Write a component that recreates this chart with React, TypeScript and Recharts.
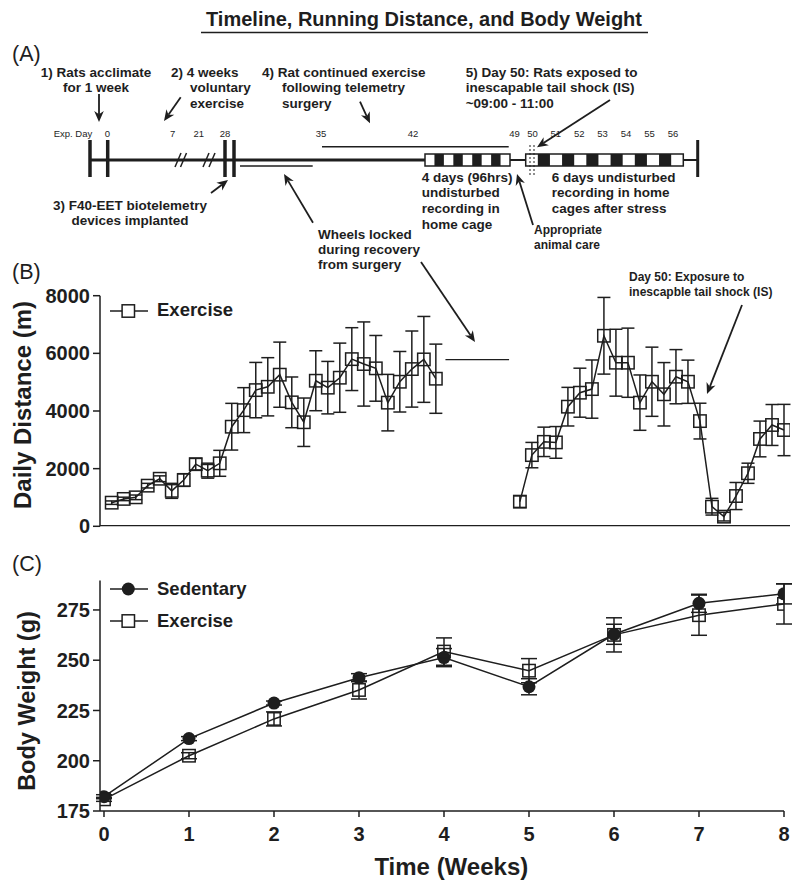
import React from "react";
import {
  ComposedChart,
  Line,
  XAxis,
  YAxis,
  ErrorBar,
  ReferenceLine,
  ReferenceArea,
  ReferenceDot,
  Legend,
} from "recharts";

const FONT = '"Liberation Sans", Arial, Helvetica, sans-serif';
const INK = "#1e1e1e";

// ---- (B) daily running distance (m), mean ± SEM ----
const preDays = [0, 1, 2, 3, 4, 5, 6, 7, 8, 9, 10, 11, 12, 13, 14, 15, 16, 17, 18, 19, 20, 21, 22, 23, 24, 25, 26, 27];
const preDistance = [820, 950, 1005, 1410, 1650, 1230, 1605, 2155, 1930, 2185, 3455, 4030, 4725, 4840, 5260, 4300, 3610, 5050, 4810, 5155, 5800, 5630, 5480, 4290, 5015, 5455, 5790, 5120];
const preSem = [60, 60, 80, 80, 100, 260, 220, 200, 260, 450, 810, 780, 960, 1010, 1130, 880, 840, 1040, 910, 1200, 1090, 1460, 1140, 980, 1050, 1320, 1490, 1200];
const postDays = [34, 35, 36, 37, 38, 39, 40, 41, 42, 43, 44, 45, 46, 47, 48, 49, 50, 51, 52, 53, 54, 55, 56];
const postDistance = [855, 2470, 2930, 2910, 4150, 4635, 4760, 6610, 5675, 5675, 4290, 5015, 4580, 5190, 5015, 3650, 680, 335, 1050, 1840, 3030, 3515, 3340];
const postSem = [200, 440, 510, 550, 670, 850, 1010, 1330, 1160, 1200, 960, 1200, 1100, 940, 750, 620, 290, 150, 470, 350, 620, 710, 890];
const distanceTicks = [0, 2000, 4000, 6000, 8000];
const dayDomain = [-0.975, 56.5];
// end of the "wheels locked" pointer, drawn in the running gap
const lockedSpan = [27.8, 33.1];
const lockedLevel = 5780;

// ---- (C) body weight (g), mean ± SEM ----
const weeks = [0, 1, 2, 3, 4, 5, 6, 7, 8];
const sedentaryWeight = [182.1, 211, 228.7, 241.3, 251.3, 236.8, 262.9, 278.3, 283];
const sedentarySem = [1, 1, 1, 2, 4.5, 4, 5, 4.5, 5];
const exerciseWeight = [180.8, 202.5, 220.8, 235.2, 254.3, 244.8, 262.6, 272.4, 278];
const exerciseSem = [1, 1.5, 3.5, 4.5, 6.8, 6, 8.5, 10, 10];
const weightTicks = [175, 200, 225, 250, 275];

// ---- (A) timeline schematic ----
const dayLabels = ["0", "7", "21", "28", "35", "42", "49", "50", "51", "52", "53", "54", "55", "56"];
const dayLabelX = [107.3, 172.7, 198.7, 225, 321, 413, 514.5, 532.5, 555.8, 579.2, 602.5, 626, 649.5, 673];
const recordingBlocks = [
  { from: 425, to: 510, nights: 4 },
  { from: 525.7, to: 683.3, nights: 6 },
];

const preRows = preDays.map((day, i) => ({ day, dist: preDistance[i], sem: preSem[i] }));
const postRows = postDays.map((day, i) => ({ day, dist: postDistance[i], sem: postSem[i] }));
const weightRows = weeks.map((week, i) => ({
  week,
  sed: sedentaryWeight[i],
  sedSem: sedentarySem[i],
  ex: exerciseWeight[i],
  exSem: exerciseSem[i],
}));

const axisStroke = { stroke: INK, strokeWidth: 1.5 };
const tickStyle = { fontSize: 20, fontWeight: 700, fill: INK, fontFamily: FONT };

const Square = (p: any) =>
  p.cx == null || p.cy == null ? null : (
    <rect key={`sq-${p.index}`} x={p.cx - 6.2} y={p.cy - 6.2} width={12.4} height={12.4} fill="none" stroke={INK} strokeWidth={1.5} />
  );

const Dot = (p: any) =>
  p.cx == null || p.cy == null ? null : <circle key={`ci-${p.index}`} cx={p.cx} cy={p.cy} r={6.5} fill={INK} />;

const yTitle = (text: string, x: number, y: number, size: number) => () => (
  <text
    x={x}
    y={y}
    transform={`rotate(-90, ${x}, ${y})`}
    textAnchor="middle"
    fontFamily={FONT}
    fontWeight={700}
    fontSize={size}
    fill={INK}
  >
    {text}
  </text>
);

type Row = { name: string; marker: "square" | "circle" };
const LegendRows = ({ rows }: { rows: Row[] }) => (
  <div style={{ fontFamily: FONT, fontWeight: 700, fontSize: 18.5, color: INK }}>
    {rows.map((r) => (
      <div key={r.name} style={{ display: "flex", alignItems: "center", height: 31.7, lineHeight: 1 }}>
        <svg width={38} height={16} style={{ display: "block" }}>
          <line x1={0} y1={8} x2={38} y2={8} stroke={INK} strokeWidth={1.5} />
          {r.marker === "square" ? (
            <rect x={12.1} y={1.8} width={12.4} height={12.4} fill="#fff" stroke={INK} strokeWidth={1.5} />
          ) : (
            <circle cx={18.3} cy={8} r={6.5} fill={INK} />
          )}
        </svg>
        <span style={{ marginLeft: 9 }}>{r.name}</span>
      </div>
    ))}
  </div>
);

function DistancePanel() {
  return (
    <ComposedChart width={800} height={270} margin={{ top: 25.7, right: 10, bottom: 12.7, left: 0 }}>
      <XAxis type="number" dataKey="day" domain={dayDomain} allowDataOverflow height={1} tick={false} tickLine={false} axisLine={false} />
      <YAxis
        type="number"
        domain={[0, 8000]}
        ticks={distanceTicks}
        interval={0}
        width={100}
        tickSize={7}
        tickMargin={3}
        tick={tickStyle}
        tickLine={axisStroke}
        axisLine={axisStroke}
        label={yTitle("Daily Distance (m)", 30.5, 135, 24)}
      />
      {/* bottom edge of the distance panel */}
      <ReferenceArea x1={dayDomain[0]} x2={dayDomain[1]} y1={0} y2={45} fill={INK} fillOpacity={1} stroke="none" ifOverflow="visible" />
      <ReferenceLine
        segment={[
          { x: lockedSpan[0], y: lockedLevel },
          { x: lockedSpan[1], y: lockedLevel },
        ]}
        stroke={INK}
        strokeWidth={1.2}
        ifOverflow="visible"
      />
      <Line data={preRows} dataKey="dist" type="linear" stroke={INK} strokeWidth={1.5} dot={Square} activeDot={false} isAnimationActive={false}>
        <ErrorBar dataKey="sem" width={6.5} stroke={INK} strokeWidth={1.5} direction="y" isAnimationActive={false} />
      </Line>
      <Line data={postRows} dataKey="dist" type="linear" stroke={INK} strokeWidth={1.5} dot={Square} activeDot={false} legendType="none" isAnimationActive={false}>
        <ErrorBar dataKey="sem" width={6.5} stroke={INK} strokeWidth={1.5} direction="y" isAnimationActive={false} />
      </Line>
      <Legend
        layout="vertical"
        align="center"
        verticalAlign="middle"
        wrapperStyle={{ left: 110, top: 24.85, width: "auto" }}
        content={() => <LegendRows rows={[{ name: "Exercise", marker: "square" }]} />}
      />
    </ComposedChart>
  );
}

function WeightPanel() {
  return (
    <ComposedChart width={800} height={351} data={weightRows} margin={{ top: 40.6, right: 16, bottom: 0, left: 0 }}>
      <XAxis
        type="number"
        dataKey="week"
        domain={[-0.047, 8]}
        allowDataOverflow
        ticks={weeks}
        interval={0}
        height={80}
        tickSize={6}
        tickMargin={10}
        tick={tickStyle}
        tickLine={axisStroke}
        axisLine={axisStroke}
        label={() => (
          <text x={451.3} y={335} textAnchor="middle" fontFamily={FONT} fontWeight={700} fontSize={24} fill={INK}>
            Time (Weeks)
          </text>
        )}
      />
      <YAxis
        type="number"
        domain={[175, 289.6]}
        ticks={weightTicks}
        interval={0}
        width={100}
        tickSize={7}
        tickMargin={3}
        tick={tickStyle}
        tickLine={axisStroke}
        axisLine={axisStroke}
        label={yTitle("Body Weight (g)", 35, 161, 23.5)}
      />
      <Line dataKey="sed" name="Sedentary" type="linear" stroke={INK} strokeWidth={1.5} dot={Dot} activeDot={false} isAnimationActive={false}>
        <ErrorBar dataKey="sedSem" width={8} stroke={INK} strokeWidth={1.5} direction="y" isAnimationActive={false} />
      </Line>
      <Line dataKey="ex" name="Exercise" type="linear" stroke={INK} strokeWidth={1.5} dot={Square} activeDot={false} isAnimationActive={false}>
        <ErrorBar dataKey="exSem" width={8} stroke={INK} strokeWidth={1.5} direction="y" isAnimationActive={false} />
      </Line>
      <Legend
        layout="vertical"
        align="center"
        verticalAlign="middle"
        wrapperStyle={{ left: 110, top: 33.45, width: "auto" }}
        content={() => (
          <LegendRows
            rows={[
              { name: "Sedentary", marker: "circle" },
              { name: "Exercise", marker: "square" },
            ]}
          />
        )}
      />
    </ComposedChart>
  );
}

// ---- overlay: timeline (A), panel letters and call-outs, in page pixel units ----
type Note = { x: number; y: number; lines: string[]; size?: number; weight?: number; anchor?: "start" | "middle" | "end"; lh?: number };

const notes: Note[] = [
  { x: 424, y: 26, lines: ["Timeline, Running Distance, and Body Weight"], size: 20, anchor: "middle" },
  { x: 12, y: 60.7, lines: ["(A)"], size: 21.5, weight: 400 },
  { x: 12, y: 279, lines: ["(B)"], size: 21.5, weight: 400 },
  { x: 12, y: 571, lines: ["(C)"], size: 21.5, weight: 400 },
  { x: 96, y: 76.7, lines: ["1) Rats acclimate", "for 1 week"], anchor: "middle" },
  { x: 171, y: 76.7, lines: ["2) 4 weeks"] },
  { x: 190, y: 92.1, lines: ["voluntary", "exercise"] },
  { x: 262, y: 76.7, lines: ["4) Rat continued exercise"] },
  { x: 282, y: 92.1, lines: ["following telemetry", "surgery"] },
  { x: 465.7, y: 76.7, lines: ["5) Day 50: Rats exposed to", "inescapable tail shock (IS)", "~09:00 - 11:00"] },
  { x: 130, y: 209.5, lines: ["3) F40-EET biotelemetry", "devices implanted"], anchor: "middle" },
  { x: 318, y: 238.5, lines: ["Wheels locked", "during recovery", "from surgery"] },
  { x: 421.7, y: 181.5, lines: ["4 days (96hrs)", "undisturbed", "recording in", "home cage"], lh: 15.8 },
  { x: 551.7, y: 181.5, lines: ["6 days undisturbed", "recording in home", "cages after stress"], lh: 15.8 },
  { x: 534, y: 234, lines: ["Appropriate", "animal care"], size: 12, lh: 14.5 },
  { x: 629, y: 281, lines: ["Day 50: Exposure to", "inescapble tail shock (IS)"], size: 12, lh: 14.5 },
  { x: 73, y: 136.5, lines: ["Exp. Day"], size: 9.5, weight: 400, anchor: "middle" },
  ...dayLabels.map((d, i) => ({ x: dayLabelX[i], y: 136.5, lines: [d], size: 9.5, weight: 400, anchor: "middle" as const })),
];

// [x1, y1, x2, y2, width]
const strokes: [number, number, number, number, number][] = [
  [201, 32.5, 648, 32.5, 1.5],
  [90, 160, 425, 160, 3],
  [510, 160, 525.7, 160, 2],
  [683.3, 160, 697.7, 160, 2],
  [90, 140, 90, 177, 3.5],
  [107.7, 140, 107.7, 177, 3.5],
  [225, 140, 225, 177, 3.5],
  [234, 140, 234, 177, 3.5],
  [697.7, 140, 697.7, 177, 3],
  [175, 167, 181, 153, 1.5],
  [180.5, 167, 186.5, 153, 1.5],
  [203, 167, 209, 153, 1.5],
  [209, 167, 215, 153, 1.5],
  [322, 146.7, 508.7, 146.7, 1.5],
  [240, 166, 312.7, 166, 1.5],
];
const dotted: [number, number, number, number][] = [
  [530, 145, 530, 177],
  [534, 145, 534, 177],
];
// tail -> head
const arrows: [number, number, number, number][] = [
  [99, 94, 99, 122],
  [180.7, 97.3, 164, 121],
  [360, 101.7, 370, 123.3],
  [610, 100, 537, 147.3],
  [211, 193, 228, 180],
  [313, 222.7, 284, 174],
  [421, 262, 475, 342],
  [533, 225, 517, 174],
  [742, 305, 707, 394],
];

const ArrowShape = (p: any) => {
  const { x1, y1, x2, y2 } = p;
  const a = Math.atan2(y2 - y1, x2 - x1);
  const c = Math.cos(a);
  const s = Math.sin(a);
  const L = 11;
  const W = 4.8;
  const bx = x2 - L * c;
  const by = y2 - L * s;
  const nx = x2 - 0.7 * L * c;
  const ny = y2 - 0.7 * L * s;
  const pts = `${x2},${y2} ${bx - W * s},${by + W * c} ${nx},${ny} ${bx + W * s},${by - W * c}`;
  return (
    <g>
      <line x1={x1} y1={y1} x2={nx} y2={ny} stroke={INK} strokeWidth={1.8} />
      <polygon points={pts} fill={INK} />
    </g>
  );
};

const noteShape = (n: Note) => (p: any) => {
  const size = n.size ?? 13.5;
  const lh = n.lh ?? 15.4;
  return (
    <text
      x={p.cx}
      y={p.cy}
      fontFamily={FONT}
      fontWeight={n.weight ?? 700}
      fontSize={size}
      fill={INK}
      textAnchor={n.anchor ?? "start"}
    >
      {n.lines.map((l, i) => (
        <tspan key={i} x={p.cx} y={p.cy + i * lh}>
          {l}
        </tspan>
      ))}
    </text>
  );
};

function TimelineOverlay() {
  return (
    <ComposedChart width={800} height={891} data={notes} margin={{ top: 0, right: 0, bottom: 0, left: 0 }}>
      <XAxis type="number" dataKey="x" domain={[0, 800]} allowDataOverflow hide />
      <YAxis type="number" dataKey="y" domain={[0, 891]} allowDataOverflow reversed hide />
      {strokes.map(([x1, y1, x2, y2, w], i) => (
        <ReferenceLine key={`s${i}`} segment={[{ x: x1, y: y1 }, { x: x2, y: y2 }]} stroke={INK} strokeWidth={w} ifOverflow="visible" />
      ))}
      {recordingBlocks.map((b, i) => (
        <ReferenceArea key={`bw${i}`} x1={b.from} x2={b.to} y1={154} y2={166} fill="#fff" fillOpacity={1} stroke="none" ifOverflow="visible" />
      ))}
      {recordingBlocks.flatMap((b, i) => {
        const n = b.nights * 2 + 1;
        const step = (b.to - b.from) / n;
        return Array.from({ length: b.nights }, (_, k) => (
          <ReferenceArea
            key={`bk${i}-${k}`}
            x1={b.from + (2 * k + 1) * step}
            x2={b.from + (2 * k + 2) * step}
            y1={154}
            y2={166}
            fill={INK}
            fillOpacity={1}
            stroke="none"
            ifOverflow="visible"
          />
        ));
      })}
      {recordingBlocks.map((b, i) => (
        <ReferenceArea key={`bo${i}`} x1={b.from} x2={b.to} y1={154} y2={166} fill="none" stroke={INK} strokeWidth={1.5} ifOverflow="visible" />
      ))}
      {dotted.map(([x1, y1, x2, y2], i) => (
        <ReferenceLine key={`d${i}`} segment={[{ x: x1, y: y1 }, { x: x2, y: y2 }]} stroke={INK} strokeWidth={1} strokeDasharray="2 2" ifOverflow="visible" />
      ))}
      {arrows.map(([x1, y1, x2, y2], i) => (
        <ReferenceLine key={`a${i}`} segment={[{ x: x1, y: y1 }, { x: x2, y: y2 }]} shape={ArrowShape} ifOverflow="visible" />
      ))}
      {notes.map((n, i) => (
        <ReferenceDot key={`n${i}`} x={n.x} y={n.y} r={0} ifOverflow="visible" shape={noteShape(n)} />
      ))}
    </ComposedChart>
  );
}

export default function App() {
  return (
    <div style={{ position: "absolute", left: 0, top: 0, width: 800, height: 891, background: "#fff" }}>
      <div style={{ position: "absolute", left: 0, top: 270 }}>
        <DistancePanel />
      </div>
      <div style={{ position: "absolute", left: 0, top: 540 }}>
        <WeightPanel />
      </div>
      <div style={{ position: "absolute", left: 0, top: 0 }}>
        <TimelineOverlay />
      </div>
    </div>
  );
}
